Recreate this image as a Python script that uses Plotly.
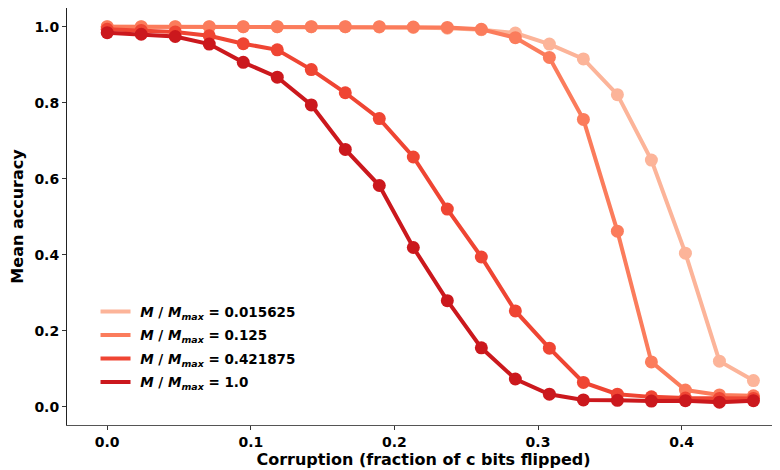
import plotly.graph_objects as go

x_vals = [round(i * 0.45 / 19, 5) for i in range(20)]

labels = ["0.015625", "0.125", "0.421875", "1.0"]
colors = ["#fcb499", "#fb7c5c", "#ef4533", "#cb181d"]

acc_0015625 = [1.0, 1.0, 1.0, 1.0, 1.0, 1.0, 1.0, 1.0, 0.999, 0.998, 0.996, 0.992,
               0.983, 0.954, 0.915, 0.821, 0.649, 0.404, 0.120, 0.069]
acc_0125 = [1.0, 1.0, 1.0, 1.0, 1.0, 1.0, 1.0, 1.0, 1.0, 0.999, 0.998, 0.993,
            0.971, 0.919, 0.756, 0.462, 0.118, 0.044, 0.031, 0.029]
acc_0421875 = [0.993, 0.990, 0.986, 0.976, 0.955, 0.939, 0.887, 0.826, 0.758, 0.657,
               0.520, 0.394, 0.252, 0.154, 0.064, 0.033, 0.026, 0.023, 0.022, 0.022]
acc_1 = [0.984, 0.980, 0.974, 0.954, 0.906, 0.867, 0.794, 0.677, 0.582, 0.419,
         0.279, 0.155, 0.073, 0.033, 0.018, 0.017, 0.015, 0.016, 0.012, 0.016]

series = [acc_0015625, acc_0125, acc_0421875, acc_1]

fig = go.Figure()
for lab, col, ys in zip(labels, colors, series):
    name = f"&nbsp;<i>M</i> / <i>M</i><sub><i>max</i></sub> = {lab}"
    fig.add_trace(go.Scatter(x=x_vals, y=ys, mode="lines", name=name,
                             line=dict(color=col, width=4), legendgroup=lab))
    fig.add_trace(go.Scatter(x=x_vals, y=ys, mode="markers", showlegend=False,
                             marker=dict(color=col, size=13), legendgroup=lab,
                             hoverinfo="skip"))

font_family = "DejaVu Sans"
fig.update_layout(
    width=772, height=462,
    margin=dict(l=59, r=0, t=0, b=45),
    plot_bgcolor="white", paper_bgcolor="white",
    font=dict(family=font_family, size=14, color="black", weight="bold"),
    showlegend=True,
    legend=dict(x=0.04, y=0.309, xanchor="left", yanchor="top",
                bgcolor="rgba(0,0,0,0)", borderwidth=0,
                font=dict(family=font_family, size=13.5, color="black", weight="bold"),
                tracegroupgap=3, itemwidth=30),
    xaxis=dict(range=[-0.028, 0.4685], tickvals=[0.0, 0.1, 0.2, 0.3, 0.4],
               ticktext=["0.0", "0.1", "0.2", "0.3", "0.4"],
               showgrid=False, zeroline=False, showline=True, linecolor="#555555",
               linewidth=1, ticks="outside", ticklen=4, tickcolor="#333333",
               title=dict(text="Corruption (fraction of c bits flipped)",
                          font=dict(size=16, weight="bold"), standoff=5),
               tickfont=dict(size=14, weight="bold")),
    yaxis=dict(range=[-0.048, 1.049], tickvals=[0.0, 0.2, 0.4, 0.6, 0.8, 1.0],
               ticktext=["0.0", "0.2", "0.4", "0.6", "0.8", "1.0"],
               showgrid=False, zeroline=False, showline=True, linecolor="#222222",
               linewidth=1, ticks="outside", ticklen=4, tickcolor="#333333",
               title=dict(text="Mean accuracy", font=dict(size=16, weight="bold"), standoff=8),
               tickfont=dict(size=14, weight="bold")),
)

fig.write_html("out.html")
